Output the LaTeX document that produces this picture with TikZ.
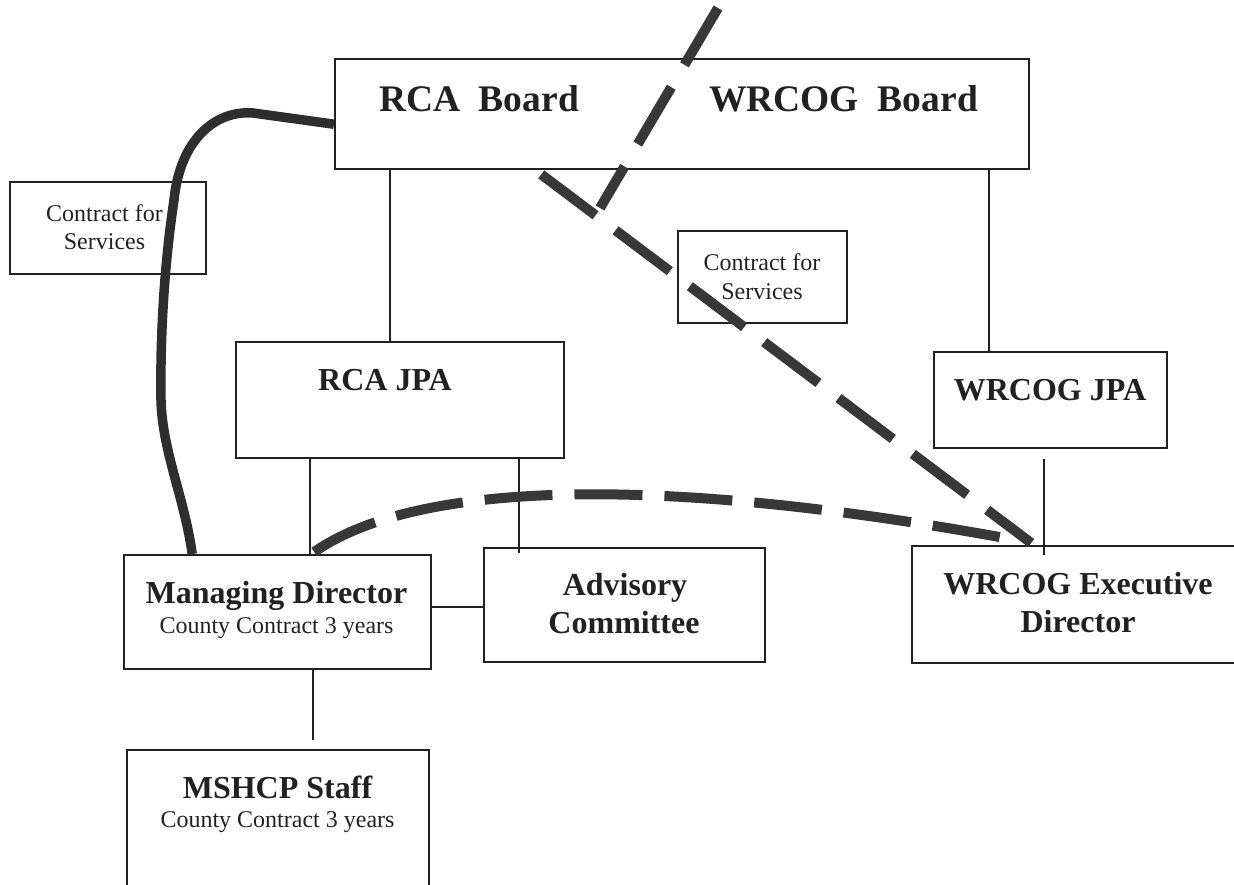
\documentclass[tikz,border=0pt]{standalone}
\usepackage{fontspec}
\setmainfont{Liberation Serif}
\begin{document}
\begin{tikzpicture}[x=1pt,y=-1pt,
  box/.style={draw=black!87, line width=2.4pt, inner sep=0pt, anchor=north west},
  big/.style={font=\bfseries\fontsize{37.5}{40}\selectfont, anchor=base, inner sep=0pt, text=black!87},
  lab/.style={font=\bfseries\fontsize{32}{36}\selectfont, anchor=base, inner sep=0pt, text=black!87},
  small/.style={font=\fontsize{24}{28}\selectfont, anchor=base, inner sep=0pt, text=black!87},
  link/.style={draw=black!87, line width=2.4pt},
  curveline/.style={draw=black!82, line width=9.5pt, line join=round},
  dashline/.style={draw=black!78, line width=10pt}
]
\useasboundingbox (0,0) rectangle (1234,885);
\clip (0,0) rectangle (1234,885);

% boxes
\node[box, minimum width=694pt, minimum height=110pt] (board) at (334,58) {};
\node[box, minimum width=196pt, minimum height=92pt] (cfsA) at (9,181) {};
\node[box, minimum width=169pt, minimum height=92pt] (cfsB) at (677,230) {};
\node[box, minimum width=328pt, minimum height=116pt] (rcajpa) at (235,341) {};
\node[box, minimum width=233pt, minimum height=96pt] (wrcogjpa) at (933,351) {};
\node[box, minimum width=307pt, minimum height=114pt] (md) at (123,554) {};
\node[box, minimum width=281pt, minimum height=114pt] (adv) at (483,547) {};
\node[box, minimum width=329pt, minimum height=117pt] (exec) at (911,545) {};
\node[box, minimum width=302pt, minimum height=136pt] (mshcp) at (126,749) {};

% texts
\node[big] (tRCAB) at (479,112) {RCA\ \ Board};
\node[big] (tWRB) at (843.5,112) {WRCOG\ \ Board};
\node[small] (tA1) at (104.5,222) {Contract for};
\node[small] (tA2) at (104.5,250) {Services};
\node[small] (tB1) at (762,271) {Contract for};
\node[small] (tB2) at (762,299) {Services};
\node[lab] (tRJ) at (385,390) {RCA JPA};
\node[lab] (tWJ) at (1050,400) {WRCOG JPA};
\node[lab] (tMD1) at (276.5,603) {Managing Director};
\node[small] (tMD2) at (276.5,633) {County Contract 3 years};
\node[lab] (tAd1) at (625,595) {Advisory};
\node[lab] (tAd2) at (624,633) {Committee};
\node[lab] (tEx1) at (1078,594) {WRCOG Executive};
\node[lab] (tEx2) at (1078,632) {Director};
\node[lab] (tMS1) at (277.5,798) {MSHCP Staff};
\node[small] (tMS2) at (277.5,827) {County Contract 3 years};

% solid connectors
\draw[link] ([xshift=-10pt]rcajpa.north) -- ([xshift=-10pt]rcajpa.north |- board.south);
\draw[link] ([xshift=-61.5pt]wrcogjpa.north) -- ([xshift=-61.5pt]wrcogjpa.north |- board.south);
\draw[link] ([xshift=-6.5pt,yshift=-10pt]wrcogjpa.south) -- ([xshift=-6.5pt,yshift=-10pt]wrcogjpa.south |- exec.north);
\draw[link] ([xshift=-90pt]rcajpa.south) -- ([xshift=-90pt]rcajpa.south |- md.north);
\draw[link] ([xshift=119pt]rcajpa.south) -- ([xshift=119pt,yshift=-6pt]rcajpa.south |- adv.north);
\draw[link] ([yshift=5pt]md.east) -- ([yshift=5pt]md.east -| adv.west);
\draw[link] ([xshift=35.5pt]md.south) -- ([xshift=35.5pt,yshift=9pt]md.south |- mshcp.north);

% thick solid curve
\draw[curveline] ([yshift=-10pt]board.west) -- (253,113)
  .. controls (215,110) and (180,140) .. (174,200)
  .. controls (165,260) and (160,330) .. (161,400)
  .. controls (162,450) and (185,500) .. ([xshift=-85.5pt]md.north);

% dashed connectors
\coordinate (d1s) at (718,8);
\coordinate (d1e) at (600,208);
\draw[dashline, dash pattern=on 66pt off 26pt] (d1s) -- (d1e);
\draw[dashline, dash pattern=on 68pt off 25pt] ([xshift=-141pt,yshift=-4pt]board.south) -- ([xshift=-45.5pt,yshift=2pt]exec.north);
\draw[dashline, dash pattern=on 68pt off 22pt] ([xshift=36.5pt,yshift=2pt]md.north)
  .. controls (410,485) and (640,470) .. ([xshift=-55.5pt,yshift=4pt]exec.north);
\end{tikzpicture}
\end{document}
